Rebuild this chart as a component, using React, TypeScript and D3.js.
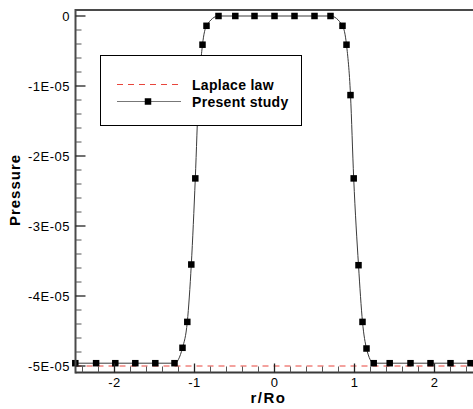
import React from "react";
import * as d3 from "d3";

// Pressure profile across the drop (r/Ro), present simulation vs Laplace law
const rValues = [
  -2.49, -2.23, -1.99, -1.74, -1.49, -1.25, -1.15, -1.09, -1.04, -0.99, -0.95, -0.9, -0.85,
  -0.7, -0.49, -0.25, 0, 0.25, 0.5, 0.7,
  0.85, 0.9, 0.95, 0.99, 1.05, 1.1, 1.15, 1.24, 1.44, 1.7, 1.95, 2.2, 2.45,
];
const pressureValues = [
  -4.96e-5, -4.96e-5, -4.96e-5, -4.96e-5, -4.96e-5, -4.96e-5, -4.74e-5, -4.37e-5, -3.55e-5, -2.32e-5, -1.13e-5, -0.41e-5, -0.14e-5,
  0, 0, 0, 0, 0, 0, 0,
  -0.14e-5, -0.41e-5, -1.13e-5, -2.32e-5, -3.56e-5, -4.37e-5, -4.75e-5, -4.96e-5, -4.96e-5, -4.96e-5, -4.96e-5, -4.96e-5, -4.96e-5,
];
const laplacePressure = -5e-5;

const xMajorTicks = [-2, -1, 0, 1, 2];
const yMajorTicks = [0, -1e-5, -2e-5, -3e-5, -4e-5, -5e-5];
const yTickLabels = ["0", "-1E-05", "-2E-05", "-3E-05", "-4E-05", "-5E-05"];
const legendLabels = ["Laplace law", "Present study"];
const xTitle = "r/Ro";
const yTitle = "Pressure";

const W = 473;
const H = 409;
const FONT = "'Liberation Sans', Arial, Helvetica, sans-serif";

export default function App() {
  const x = d3.scaleLinear().domain([-2.5, 2.5]).range([74.5, 474.5]);
  const y = d3.scaleLinear().domain([-5.1e-5, 0.1e-5]).range([373, 9]);

  const xMinor = d3.range(-24, 25, 2).map((v) => v / 10).filter((v) => !xMajorTicks.includes(v));
  const yMinor = d3
    .range(0, -51, -2)
    .map((v) => v * 1e-6)
    .filter((v) => !yMajorTicks.some((m) => Math.abs(m - v) < 1e-9));

  const pts = rValues.map((r, i) => [r, pressureValues[i]] as [number, number]);
  const line = d3
    .line<[number, number]>()
    .x((d) => x(d[0]))
    .y((d) => y(d[1]))
    .curve(d3.curveMonotoneX);

  const left = 75.5;
  const bottom = 372.5;
  const top = 10;
  const ms = 6.5;

  return (
    <svg
      width={W}
      height={H}
      style={{ position: "absolute", left: 0, top: 0, background: "#fff" }}
      fontFamily={FONT}
    >
      <defs>
        <clipPath id="plot">
          <rect x={left} y={top} width={W - left} height={bottom - top} />
        </clipPath>
      </defs>

      {/* Laplace law reference level */}
      <line
        x1={left}
        x2={W}
        y1={y(laplacePressure)}
        y2={y(laplacePressure)}
        stroke="#e8453c"
        strokeWidth={1}
        strokeDasharray="6,5"
      />

      {/* simulated profile */}
      <path d={line(pts) ?? ""} fill="none" stroke="#3a3a3a" strokeWidth={1} />
      {pts.map((d, i) => (
        <rect key={i} x={x(d[0]) - ms / 2} y={y(d[1]) - ms / 2} width={ms} height={ms} fill="#000" />
      ))}

      {/* frame */}
      <line x1={left} x2={W} y1={top} y2={top} stroke="#4a4a4a" strokeWidth={2} />
      <line x1={left} x2={left} y1={top - 1} y2={bottom + 1} stroke="#4a4a4a" strokeWidth={2} />
      <line x1={left} x2={W} y1={bottom} y2={bottom} stroke="#3a3a3a" strokeWidth={2} />

      {/* y ticks */}
      {yMajorTicks.map((v, i) => (
        <g key={"ym" + i}>
          <line x1={left} x2={left + 10} y1={y(v)} y2={y(v)} stroke="#222" strokeWidth={1.3} />
          <text
            x={70}
            y={y(v)}
            dy="0.36em"
            textAnchor="end"
            fontSize={13}
            letterSpacing={0.5}
            fill="#000"
          >
            {yTickLabels[i]}
          </text>
        </g>
      ))}
      {yMinor.map((v, i) => (
        <line key={"yn" + i} x1={left} x2={left + 6} y1={y(v)} y2={y(v)} stroke="#555" strokeWidth={1} />
      ))}

      {/* x ticks */}
      {xMajorTicks.map((v) => (
        <g key={"xm" + v}>
          <line x1={x(v)} x2={x(v)} y1={bottom} y2={bottom - 9} stroke="#222" strokeWidth={1.3} />
          <text x={x(v)} y={387} textAnchor="middle" fontSize={13} letterSpacing={0.5} fill="#000">
            {v}
          </text>
        </g>
      ))}
      {xMinor.map((v) => (
        <line key={"xn" + v} x1={x(v)} x2={x(v)} y1={bottom} y2={bottom - 6} stroke="#555" strokeWidth={1} />
      ))}

      {/* axis titles */}
      <text x={268.5} y={403} textAnchor="middle" fontSize={15} fontWeight="bold" letterSpacing={1.5}>
        {xTitle}
      </text>
      <text
        transform="translate(20,190) rotate(-90)"
        textAnchor="middle"
        fontSize={15}
        fontWeight="bold"
        letterSpacing={1}
      >
        {yTitle}
      </text>

      {/* legend */}
      <g>
        <rect x={100.5} y={55.5} width={201} height={70} fill="#fff" stroke="#000" strokeWidth={1} />
        <line x1={117} x2={181} y1={84.5} y2={84.5} stroke="#e8453c" strokeWidth={1} strokeDasharray="6,5" />
        <line x1={117} x2={181} y1={101.5} y2={101.5} stroke="#777" strokeWidth={1.2} />
        <rect x={148 - ms / 2} y={101.5 - ms / 2} width={ms} height={ms} fill="#000" />
        <text x={192} y={90} fontSize={14} fontWeight="bold" letterSpacing={0.3}>
          {legendLabels[0]}
        </text>
        <text x={192} y={106.5} fontSize={14} fontWeight="bold" letterSpacing={0.3}>
          {legendLabels[1]}
        </text>
      </g>
    </svg>
  );
}
